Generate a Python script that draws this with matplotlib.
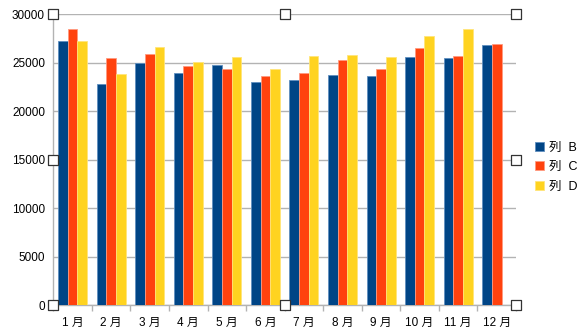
import numpy as np
import matplotlib.pyplot as plt

months = ["1 月", "2 月", "3 月", "4 月", "5 月", "6 月",
          "7 月", "8 月", "9 月", "10 月", "11 月", "12 月"]
col_b = [27300, 22800, 24950, 23900, 24750, 23000,
         23200, 23700, 23600, 25550, 25500, 26800]
col_c = [28500, 25450, 25900, 24650, 24350, 23650,
         24000, 25300, 24400, 26500, 25700, 26950]
col_d = [27200, 23800, 26600, 25100, 25600, 24400,
         25700, 25850, 25600, 27800, 28450, np.nan]
series_names = ["列  B", "列  C", "列  D"]
colors = ["#004586", "#ff420e", "#ffd320"]
edges = ["#5f8fbf", "#ff9a80", "#ffe57a"]

plt.rcParams['font.family'] = ['Liberation Sans', 'Noto Sans CJK JP', 'DejaVu Sans']

fig = plt.figure(figsize=(5.82, 3.33), dpi=100)
ax = fig.add_axes([0.0916, 0.083, 0.795, 0.874])

x = np.arange(len(months))
w = 0.25
for i, (vals, c, e, name) in enumerate(zip([col_b, col_c, col_d], colors, edges, series_names)):
    ax.bar(x + (i - 1) * w, vals, width=w, color=c, edgecolor=e, linewidth=0.6,
           label=name, zorder=3)

ax.set_xlim(-0.5, len(months) - 0.5)
ax.set_ylim(0, 30000)
ax.set_yticks(range(0, 30001, 5000))
ax.yaxis.grid(True, color="#b3b3b3", linewidth=1)
ax.set_axisbelow(True)

ax.set_xticks(x)
ax.set_xticklabels(months, fontsize=8.5)
ax.set_xticks(np.arange(-0.5, len(months)), minor=True)
ax.tick_params(axis='x', which='major', length=0, pad=8)
ax.tick_params(axis='x', which='minor', length=4, color="#b3b3b3", width=1)
ax.tick_params(axis='y', length=0, labelsize=8.5, pad=6)

for s in ['top', 'right']:
    ax.spines[s].set_visible(False)
for s in ['left', 'bottom']:
    ax.spines[s].set_color("#b3b3b3")
    ax.spines[s].set_linewidth(1)

# selection handles around plot area
hx = [0, 0.5, 1, 0, 1, 0, 0.5, 1]
hy = [1, 1, 1, 0.5, 0.5, 0, 0, 0]
ax.scatter(hx, hy, s=42, marker='s', facecolor='white', edgecolor='#333333',
           linewidth=0.9, transform=ax.transAxes, clip_on=False, zorder=5)

leg = ax.legend(loc='center left', bbox_to_anchor=(1.03, 0.475), frameon=False,
                fontsize=9, handlelength=0.7, handleheight=0.7, handletextpad=0.4,
                labelspacing=0.6, borderaxespad=0)

fig.savefig("out.png", dpi=100)
